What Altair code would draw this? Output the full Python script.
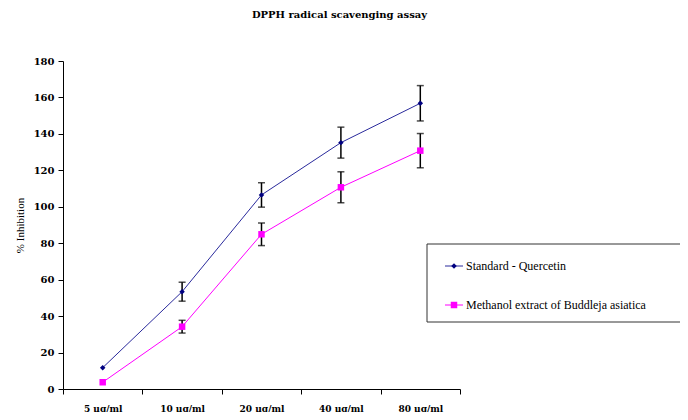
import altair as alt
import pandas as pd

concs = ["5 µg/ml", "10 µg/ml", "20 µg/ml", "40 µg/ml", "80 µg/ml"]
series_names = ["Standard - Quercetin", "Methanol extract of Buddleja asiatica"]
quercetin = [11.7, 53.4, 106.5, 135.2, 156.8]
quercetin_err = [0, 5.2, 6.7, 8.5, 9.7]
methanol = [3.7, 34.2, 84.9, 110.7, 130.8]
methanol_err = [0, 3.5, 6.2, 8.5, 9.4]
line_colors = ["#2a2a9c", "#ff00ff"]
marker_colors = ["#000080", "#ff00ff"]

rows = []
for s, vals, errs in [(series_names[0], quercetin, quercetin_err), (series_names[1], methanol, methanol_err)]:
    for c, v, e in zip(concs, vals, errs):
        rows.append({"conc": c, "series": s, "value": v, "err": e, "lo": v - e, "hi": v + e})
df = pd.DataFrame(rows)

font_serif = "DejaVu Serif"
xaxis = alt.Axis(labelAngle=0, labelFont=font_serif, labelFontWeight="bold", tickBand="extent",
                 labelFontSize=9, labelColor="black", labelPadding=10, tickSize=5, title=None,
                 domainColor="black", tickColor="black", grid=False)
xscale = alt.Scale(type="band", paddingInner=0, paddingOuter=0)
yscale = alt.Scale(domain=[0, 180], nice=False)
yaxis = alt.Axis(values=[0, 20, 40, 60, 80, 100, 120, 140, 160, 180], title="% Inhibition",
                 titleFont="Liberation Serif", titleFontWeight="normal", titleFontSize=11, titleColor="black",
                 titlePadding=8, labelFont=font_serif, labelFontWeight="bold", labelFontSize=10,
                 labelColor="black", labelOverlap=False, labelPadding=4, tickSize=5, domainColor="black",
                 tickColor="black", grid=False)


def X():
    return alt.X("conc:N", sort=concs, scale=xscale, axis=xaxis)


def Y(field):
    return alt.Y(field, type="quantitative", scale=yscale, axis=yaxis)


base = alt.Chart(df)

lines = base.mark_line(strokeWidth=1).encode(
    x=X(), y=Y("value"),
    color=alt.Color("series:N", scale=alt.Scale(domain=series_names, range=line_colors), legend=None),
)

errdf = base.transform_filter("datum.err > 0")
rules = errdf.mark_rule(color="black", strokeWidth=1.5).encode(x=X(), y=Y("lo"), y2="hi:Q")
cap_lo = errdf.mark_tick(color="black", size=7, thickness=1.5).encode(x=X(), y=Y("lo"))
cap_hi = errdf.mark_tick(color="black", size=7, thickness=1.5).encode(x=X(), y=Y("hi"))

pts_q = base.transform_filter(alt.datum.series == series_names[0]).mark_point(
    shape="diamond", filled=True, color=marker_colors[0], size=30, opacity=1).encode(x=X(), y=Y("value"))
pts_m = base.transform_filter(alt.datum.series == series_names[1]).mark_square(
    color=marker_colors[1], size=42, opacity=1).encode(x=X(), y=Y("value"))

# legend box (decoration)
one = alt.Chart(pd.DataFrame({"k": [0]}))
box = one.mark_rect(fill="white", stroke="#333333", strokeWidth=1).encode(
    x=alt.value(364), x2=alt.value(623), y=alt.value(183), y2=alt.value(261))
legend_layers = [box]
row_y = [205, 244]
shapes = ["diamond", "square"]
sizes = [30, 42]
for i, name in enumerate(series_names):
    legend_layers.append(one.mark_rule(color=line_colors[i], strokeWidth=1).encode(
        x=alt.value(382), x2=alt.value(400), y=alt.value(row_y[i])))
    legend_layers.append(one.mark_point(shape=shapes[i], filled=True, color=marker_colors[i], size=sizes[i],
                                        opacity=1).encode(x=alt.value(391), y=alt.value(row_y[i])))
    legend_layers.append(one.mark_text(align="left", baseline="middle", font="Liberation Serif", fontSize=12,
                                       color="black").encode(
        x=alt.value(403), y=alt.value(row_y[i]), text=alt.value(name)))

chart = alt.layer(lines, rules, cap_lo, cap_hi, pts_q, pts_m, *legend_layers).properties(
    width=397, height=328,
    background="white",
    title=alt.TitleParams("DPPH radical scavenging assay", font=font_serif, fontWeight="bold", fontSize=10,
                          color="black", anchor="middle", dx=78, offset=36),
    autosize=alt.AutoSizeParams(type="none"),
    padding={"left": 55, "top": 53, "right": 220, "bottom": 23},
).configure_view(stroke=None).configure_axisY(labelOverlap=False)

chart.save("out.html", embed_options={"renderer": "svg", "actions": False})
